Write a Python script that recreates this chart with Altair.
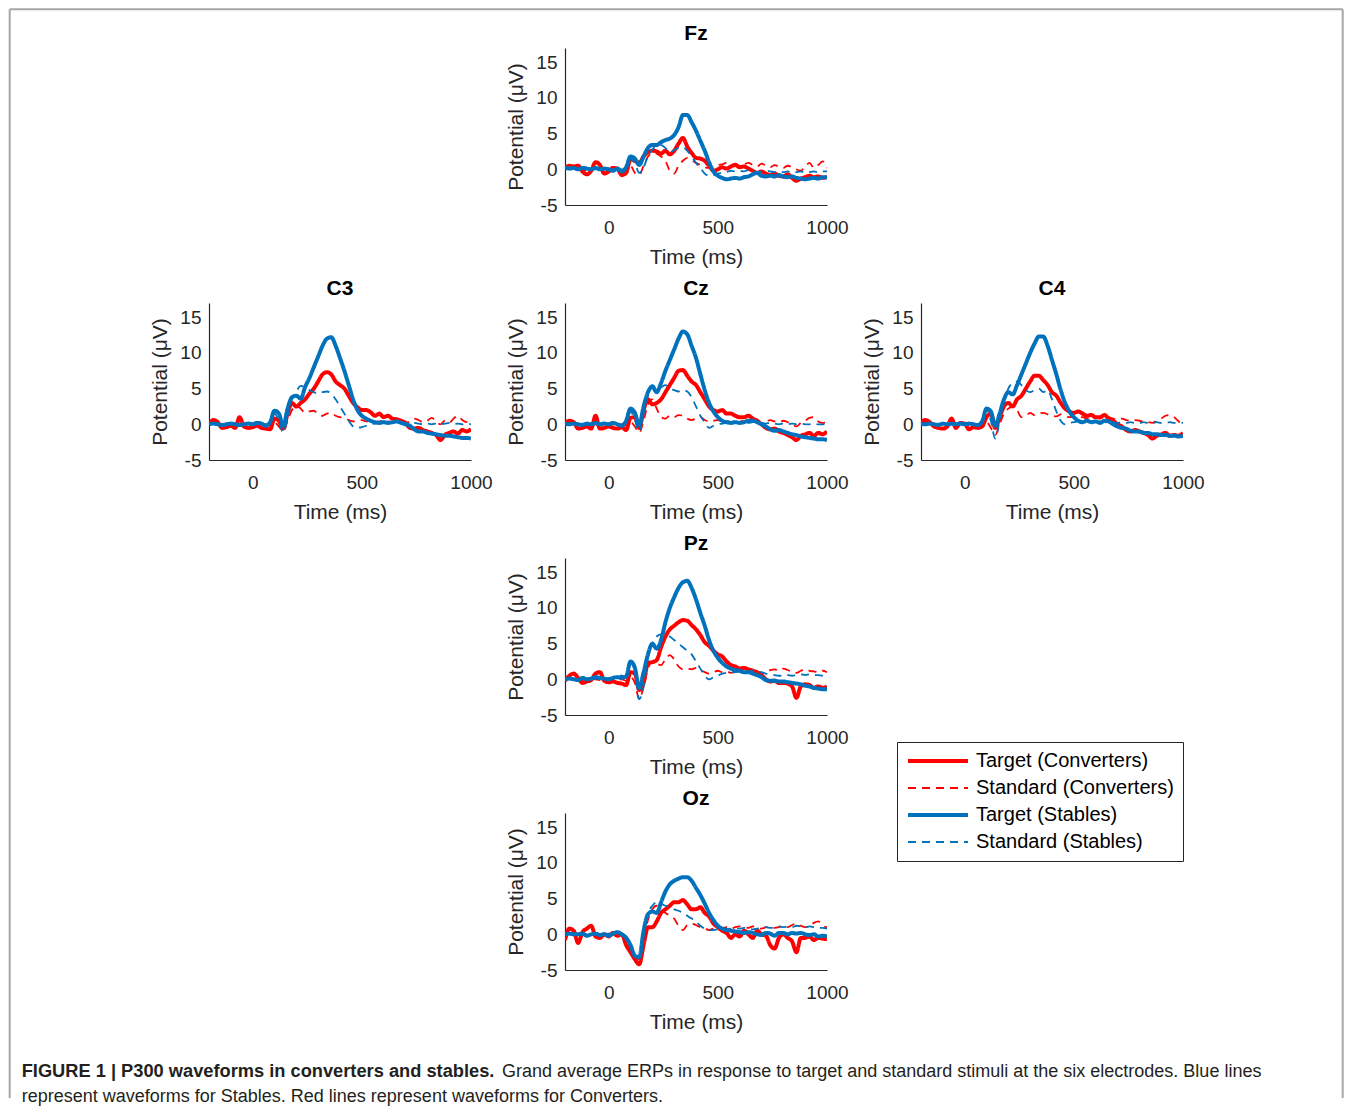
import altair as alt
import pandas as pd

# ---------------- data (20 ms steps) ----------------
TIME_MS = list(range(-200, 1001, 20))

SERIES = ["Target (Converters)", "Standard (Converters)", "Target (Stables)", "Standard (Stables)"]
COLORS = ["#ff0000", "#ff0000", "#0072bd", "#0072bd"]
DASHES = [[1, 0], [8, 6], [1, 0], [8, 6]]
WIDTHS = [4, 1.8, 4, 1.8]

FZ_TC = [0.2, 0.5, 0.4, 0.5, -0.3, -0.7, -0.2, 1.0, 0.6, -0.6,
         -0.3, 0.2, 0.1, -0.8, -0.5, 1.4, 1.2, 0.9, 1.8, 2.4,
         2.6, 2.5, 2.2, 2.6, 2.1, 2.6, 3.6, 4.4, 3.2, 2.3,
         1.6, 1.5, 1.2, 0.5, -0.2, 0.0, 0.3, 0.1, 0.4, 0.6,
         0.3, 0.4, 0.1, -0.2, -0.5, -0.3, -0.6, -0.8, -0.6, -0.9,
         -1.0, -0.7, -1.2, -1.6, -1.3, -1.1, -0.9, -1.1, -1.0, -1.2,
         -1.0]
FZ_SC = [0.2, 0.3, 0.1, 0.2, 0.0, -0.2, 0.0, 0.2, 0.1, 0.0,
         0.0, 0.1, 0.0, -0.2, 0.0, 0.5, -0.5, -0.8, 0.5, 1.8,
         2.3, 2.2, 1.8, 1.2, -0.2, -0.6, 0.5, 1.2, 1.6, 1.3,
         0.9, 0.6, 0.3, 0.2, 0.3, 0.6, 0.7, 0.9, 0.6, 0.8,
         0.5, 0.7, 0.9, 0.6, 0.4, 0.8, 0.5, 0.3, 0.6, 0.4,
         0.2, 0.5, 0.3, 0.0, -0.2, 0.4, 0.9, 0.2, 0.6, 1.1,
         0.2]
FZ_TS = [0.3, 0.1, 0.2, 0.0, 0.2, 0.1, 0.0, 0.2, 0.0, 0.1,
         0.0, -0.2, 0.1, -0.3, 0.3, 1.8, 1.5, 0.6, 1.8, 3.0,
         3.4, 3.4, 3.8, 4.1, 4.3, 4.8, 5.9, 7.6, 7.6, 6.6,
         5.4, 4.0, 2.6, 1.0, -0.3, -0.9, -1.2, -1.4, -1.3, -1.2,
         -1.3, -1.1, -1.0, -0.7, -0.5, -0.9, -1.0, -0.9, -1.0, -0.8,
         -1.0, -1.1, -1.0, -1.2, -1.3, -1.4, -1.3, -1.2, -1.3, -1.1,
         -1.2]
FZ_SS = [0.2, 0.1, 0.1, 0.0, 0.1, 0.0, 0.1, 0.0, 0.1, 0.0,
         0.0, 0.0, 0.1, 0.0, 0.2, 1.5, 0.8, -0.5, 0.3, 1.8,
         2.8, 3.2, 3.4, 3.0, 2.4, 2.7, 3.0, 3.1, 2.6, 1.8,
         0.9, 0.2, -0.6, -0.9, -0.8, -0.6, -0.5, -0.4, -0.2, -0.3,
         -0.2, -0.3, -0.1, -0.2, -0.4, -0.3, -0.2, -0.3, -0.4, -0.3,
         -0.4, -0.3, -0.5, -0.4, -0.3, -0.5, -0.4, -0.3, -0.4, -0.3,
         -0.3]

C3_TC = [0.0, 0.6, 0.3, -0.5, -0.4, -0.2, -0.5, 1.0, -0.3, -0.5,
         -0.4, -0.2, -0.5, -0.6, -0.7, 0.8, 0.5, -0.6, 1.5, 3.0,
         2.5, 3.0, 3.5, 4.3, 5.0, 6.0, 7.0, 7.3, 7.0, 6.0,
         5.5, 5.0, 4.0, 3.0, 2.4, 2.0, 2.0, 1.7, 1.2, 1.5,
         1.0, 1.2, 0.8, 0.7, 0.5, 0.2, -0.5, -0.6, -0.5, -0.8,
         -1.0, -1.2, -1.5, -2.2, -1.5, -1.2, -1.0, -1.3, -0.8, -1.0,
         -0.7]
C3_SC = [0.1, 0.2, 0.0, 0.1, -0.1, 0.0, 0.1, 0.0, -0.1, 0.0,
         0.1, 0.0, -0.1, 0.0, -0.2, 0.3, -0.3, -1.0, 0.5, 2.0,
         2.6, 2.2, 1.6, 1.8, 1.9, 1.4, 1.2, 1.5, 1.6, 1.2,
         1.0, 0.8, 0.6, 0.4, 0.5, 0.6, 0.4, 0.5, 0.3, 0.4,
         0.5, 0.4, 0.3, 0.5, 0.4, 0.2, 0.4, 0.8, 0.6, 0.3,
         0.5, 0.9, 0.4, 0.0, 0.5, 0.2, 0.8, 1.2, 0.6, 0.3,
         0.4]
C3_TS = [0.0, 0.1, 0.0, -0.1, 0.0, 0.1, 0.0, -0.1, 0.0, 0.1,
         0.0, 0.2, 0.1, -0.2, 0.3, 1.9, 1.5, -0.2, 2.2, 3.8,
         4.0, 3.6, 5.2, 6.5, 8.0, 9.5, 11.0, 12.0, 12.2, 11.0,
         9.3, 7.5, 5.5, 3.5, 2.0, 1.2, 0.8, 0.5, 0.3, 0.2,
         0.3, 0.2, 0.3, 0.4, 0.2, 0.0, -0.2, -0.7, -1.0, -1.0,
         -1.2, -1.3, -1.4, -1.5, -1.6, -1.6, -1.7, -1.8, -1.9, -1.9,
         -2.0]
C3_SS = [0.0, 0.1, 0.0, 0.0, 0.1, 0.0, 0.0, 0.1, 0.0, 0.0,
         0.1, 0.0, 0.1, 0.0, 0.2, 1.5, 0.5, -1.2, 1.0, 3.5,
         4.6, 5.4, 5.2, 4.8, 4.5, 4.3, 4.5, 4.6, 4.3, 3.5,
         2.5, 1.5, 0.5, -0.3, -0.5, -0.4, -0.2, 0.0, 0.1, 0.2,
         0.2, 0.3, 0.2, 0.2, 0.3, 0.2, 0.1, 0.2, 0.1, 0.0,
         0.1, 0.0, 0.1, 0.0, 0.1, 0.2, 0.0, 0.1, 0.0, 0.1,
         0.0]

CZ_TC = [0.1, 0.5, 0.3, -0.6, -0.5, -0.3, -0.6, 1.2, -0.6, -0.5,
         -0.3, -0.5, -0.6, -0.4, -0.8, 0.9, 1.0, -0.5, 2.0, 3.5,
         2.8, 3.0, 3.5, 4.5, 5.5, 6.5, 7.5, 7.6, 6.8, 6.0,
         5.5, 4.5, 3.5, 2.5, 2.0, 1.8, 2.0, 1.5, 1.5, 1.2,
         1.0, 1.0, 1.2, 0.8, 0.5, 0.0, -0.5, -0.7, -0.6, -1.0,
         -1.2, -1.5, -1.8, -2.2, -1.6, -1.4, -1.2, -1.6, -1.2, -1.4,
         -1.0]
CZ_SC = [0.1, 0.2, 0.0, 0.1, -0.1, 0.0, 0.1, 0.0, -0.1, 0.0,
         0.1, 0.0, -0.1, 0.0, -0.2, 0.3, -0.3, -1.2, 0.5, 2.8,
         3.5, 2.2, 1.0, 0.8, 1.2, 1.0, 1.3, 1.2, 0.8, 0.6,
         0.8, 1.0, 0.6, 0.4, 0.5, 0.6, 0.4, 0.5, 0.3, 0.4,
         0.5, 0.4, 0.3, 0.5, 0.4, 0.2, 0.4, 0.6, 0.4, 0.3,
         0.5, 0.3, 0.0, -0.3, 0.2, 0.5, 0.9, 1.0, 0.4, 0.2,
         0.3]
CZ_TS = [0.1, 0.0, 0.1, 0.0, -0.1, 0.1, 0.0, 0.2, 0.0, 0.1,
         0.0, 0.2, 0.0, -0.2, 0.5, 2.2, 1.6, -0.1, 2.5, 4.5,
         5.3, 4.5, 5.8, 7.5, 9.0, 10.5, 12.0, 13.0, 12.6, 11.0,
         9.3, 7.0, 4.8, 3.0, 1.8, 1.0, 0.5, 0.3, 0.2, 0.3,
         0.2, 0.3, 0.5, 0.5, 0.3, 0.0, -0.3, -0.7, -0.9, -0.8,
         -1.0, -1.2, -1.4, -1.5, -1.7, -1.8, -1.9, -2.0, -2.1, -2.1,
         -2.2]
CZ_SS = [0.0, 0.1, 0.0, 0.0, 0.1, 0.0, 0.0, 0.1, 0.0, 0.0,
         0.1, 0.0, 0.1, 0.0, 0.3, 1.8, 0.6, -1.0, 1.5, 4.0,
         5.5, 5.0, 5.2, 5.5, 5.0, 4.8, 4.6, 4.8, 4.6, 3.8,
         2.5, 1.2, 0.3, -0.5, -0.2, 0.0, 0.1, 0.2, 0.2, 0.3,
         0.2, 0.3, 0.2, 0.3, 0.3, 0.2, 0.1, 0.2, 0.1, 0.0,
         0.1, 0.0, 0.1, 0.0, 0.1, 0.0, 0.0, 0.1, 0.0, 0.0,
         0.0]

C4_TC = [0.2, 0.6, 0.3, -0.3, -0.5, -0.6, -0.3, 0.8, -0.5, 0.2,
         0.1, -0.7, -0.4, -0.5, -0.3, 1.0, 1.5, -0.5, 1.0, 2.5,
         3.0, 2.5, 3.5, 4.0, 5.0, 6.0, 6.8, 6.8, 6.2, 5.5,
         4.5, 4.0, 3.0, 2.2, 1.8, 1.6, 1.8, 1.5, 1.2, 1.3,
         1.0, 1.0, 1.3, 0.8, 0.5, 0.0, -0.3, -0.8, -1.0, -0.8,
         -1.0, -1.2, -1.5, -2.0, -1.6, -1.4, -1.2, -1.6, -1.5, -1.6,
         -1.2]
C4_SC = [0.1, 0.2, 0.0, 0.1, -0.1, 0.0, 0.1, 0.0, -0.1, 0.0,
         0.1, 0.0, -0.1, 0.0, -0.2, 0.3, -0.5, -1.5, 0.0, 1.5,
         2.2, 2.5, 2.0, 1.0, 1.2, 1.6, 1.3, 1.5, 1.6, 1.4,
         1.2, 1.1, 1.4, 1.2, 1.0, 1.0, 0.9, 1.0, 0.8, 0.9,
         1.0, 0.8, 1.2, 1.0, 0.8, 0.7, 0.8, 0.6, 0.5, 0.6,
         0.5, 0.4, 0.3, 0.2, 0.5, 0.8, 1.2, 1.3, 1.0, 0.4,
         -0.3]
C4_TS = [0.1, 0.0, 0.1, 0.0, -0.1, 0.1, 0.0, 0.1, 0.0, 0.1,
         0.0, 0.1, 0.0, -0.1, 0.4, 2.2, 1.8, -0.2, 1.5, 3.5,
         4.5, 4.2, 5.5, 7.0, 8.5, 10.0, 11.3, 12.3, 12.3, 11.0,
         9.0, 7.0, 4.8, 3.0, 1.8, 1.0, 0.5, 0.3, 0.5, 0.3,
         0.4, 0.2, 0.5, 0.4, 0.0, -0.3, -0.5, -0.6, -0.9, -1.0,
         -1.0, -1.2, -1.2, -1.4, -1.4, -1.5, -1.5, -1.6, -1.6, -1.7,
         -1.6]
C4_SS = [0.0, 0.1, 0.0, 0.0, 0.1, 0.0, 0.0, 0.1, 0.0, 0.0,
         0.1, 0.0, 0.1, 0.0, 0.3, 2.0, 0.5, -2.0, 0.5, 3.0,
         5.0, 5.8, 6.0, 5.5, 4.8, 4.5, 4.8, 5.0, 4.5, 4.8,
         3.5, 1.8, 0.5, 0.0, 0.2, 0.3, 0.4, 0.3, 0.5, 0.4,
         0.3, 0.4, 0.3, 0.2, 0.3, 0.2, 0.3, 0.2, 0.3, 0.2,
         0.2, 0.3, 0.2, 0.2, 0.3, 0.2, 0.2, 0.3, 0.2, 0.2,
         0.2]

PZ_TC = [-0.2, 0.5, 0.8, 0.2, -0.5, -0.3, -0.1, 0.8, 1.0, -0.2,
         -0.4, -0.3, -0.5, -0.6, -0.8, 1.0, 0.8, -1.5, -0.5, 2.3,
         2.4, 2.7, 4.5, 6.0, 7.0, 7.5, 8.0, 8.3, 8.2, 7.6,
         7.0, 6.2, 5.2, 4.7, 4.0, 3.5, 3.2, 2.5, 2.0, 1.8,
         1.5, 1.6, 1.4, 1.2, 1.0, 0.6, 0.0, -0.3, -0.2, -0.5,
         -0.5, -0.6, -1.0, -2.6, -1.0, -0.7, -0.8, -1.2, -1.0, -1.2,
         -1.0]
PZ_SC = [0.1, 0.2, 0.0, 0.1, -0.1, 0.0, 0.1, 0.0, -0.1, 0.0,
         0.1, 0.0, -0.1, 0.0, -0.2, 0.3, -0.5, -2.8, -1.0, 1.5,
         2.5, 2.2, 2.0, 2.8, 3.4, 2.8, 1.8, 1.4, 1.5, 1.4,
         1.6, 1.3, 1.0, 0.8, 1.0, 1.2, 1.0, 1.1, 0.9, 1.0,
         1.1, 1.0, 1.2, 1.1, 1.0, 0.9, 1.1, 1.3, 1.4, 1.2,
         1.5, 1.3, 1.0, 0.9, 1.2, 1.4, 1.2, 1.1, 1.0, 1.2,
         1.0]
PZ_TS = [0.0, 0.1, 0.0, -0.1, 0.2, 0.0, 0.1, 0.3, 0.2, 0.1,
         0.0, 0.2, 0.3, 0.2, 0.4, 2.5, 1.6, -1.2, 1.0, 3.5,
         5.0, 4.3, 5.5, 8.0, 10.0, 11.5, 12.8, 13.6, 13.8, 12.8,
         11.2, 9.3, 7.5, 5.5, 4.0, 3.0, 2.3, 1.8, 1.5, 1.3,
         1.2, 1.0, 1.0, 0.8, 0.6, 0.3, -0.1, -0.2, -0.2, -0.3,
         -0.3, -0.4, -0.5, -0.6, -0.7, -0.9, -1.0, -1.2, -1.3, -1.4,
         -1.4]
PZ_SS = [0.0, 0.1, 0.0, 0.0, 0.1, 0.0, 0.0, 0.1, 0.0, 0.0,
         0.1, 0.2, 0.5, 0.5, 0.4, 2.4, 1.5, -2.8, -1.0, 3.0,
         5.0, 6.0, 6.3, 6.3, 6.0, 5.5, 5.0, 4.5, 4.0, 3.5,
         2.5, 1.5, 0.5, 0.0, 0.3, 0.5, 0.8, 0.9, 1.0, 1.0,
         1.1, 1.0, 1.1, 1.2, 1.1, 1.0, 0.8, 0.7, 0.6, 0.5,
         0.5, 0.6, 0.5, 0.6, 0.7, 0.6, 0.7, 0.6, 0.6, 0.5,
         0.5]

OZ_TC = [-0.8, 0.8, 0.5, -1.2, 0.3, 0.8, 1.2, -0.3, -0.5, 0.0,
         -0.3, 0.2, -0.2, 0.0, -1.5, -2.5, -3.5, -4.2, -1.5, 1.0,
         1.0, 1.8, 3.0, 3.5, 4.0, 4.5, 4.5, 4.8, 4.2, 3.5,
         3.5, 3.8, 3.0, 2.5, 1.5, 1.0, 0.5, 0.2, -0.5, 0.0,
         -0.3, 0.5, 0.0, -0.5, 0.5, 0.0, -0.2, -1.5, -2.0, -0.5,
         0.0, -0.5, -1.0, -2.5, -0.5, -0.5, -0.3, -0.8, -0.5, -0.6,
         -0.7]
OZ_SC = [0.1, 0.2, 0.0, 0.1, -0.1, 0.0, 0.1, 0.0, -0.1, 0.0,
         0.1, 0.0, -0.1, 0.0, -0.8, -2.0, -3.2, -3.5, -1.0, 2.0,
         3.5, 4.0, 3.5, 3.0, 2.6, 2.2, 1.2, 0.6, 1.3, 1.5,
         1.3, 1.0, 0.8, 0.6, 0.8, 1.0, 0.9, 1.0, 0.8, 1.0,
         1.1, 1.0, 0.9, 1.1, 1.0, 0.8, 1.0, 1.1, 0.9, 1.0,
         1.2, 1.0, 1.3, 1.5, 1.2, 1.0, 1.2, 1.6, 1.8, 1.2,
         1.0]
OZ_TS = [0.0, 0.1, 0.0, 0.0, 0.1, -0.2, 0.0, 0.1, -0.1, 0.0,
         -0.2, 0.1, 0.3, 0.0, -0.5, -1.5, -3.0, -3.2, 0.5, 2.8,
         3.2, 3.0, 4.5, 6.0, 7.0, 7.5, 7.8, 8.0, 8.0, 7.5,
         6.5, 5.5, 4.3, 3.0, 2.0, 1.2, 0.8, 0.6, 0.5, 0.4,
         0.3, 0.2, 0.3, 0.2, 0.0, -0.1, 0.2, 0.1, -0.2, 0.2,
         0.2, 0.0, 0.2, 0.1, 0.2, 0.0, -0.1, 0.0, -0.3, -0.2,
         -0.3]
OZ_SS = [0.0, 0.1, 0.0, 0.0, 0.1, 0.0, 0.0, 0.1, 0.0, 0.0,
         0.1, 0.0, 0.1, 0.0, -0.3, -1.5, -3.0, -3.4, 0.5, 3.0,
         4.0, 4.5, 4.3, 4.0, 3.8, 3.5, 3.3, 3.0, 2.6, 2.2,
         1.8, 1.2, 0.8, 0.6, 0.6, 0.7, 0.8, 0.7, 0.8, 0.9,
         0.8, 0.9, 0.8, 0.7, 0.8, 0.9, 1.0, 0.9, 1.0, 1.1,
         1.0, 1.1, 1.0, 1.2, 1.1, 1.0, 1.1, 1.0, 0.9, 0.9,
         0.8]

WAVES = {
    "Fz": [FZ_TC, FZ_SC, FZ_TS, FZ_SS],
    "C3": [C3_TC, C3_SC, C3_TS, C3_SS],
    "Cz": [CZ_TC, CZ_SC, CZ_TS, CZ_SS],
    "C4": [C4_TC, C4_SC, C4_TS, C4_SS],
    "Pz": [PZ_TC, PZ_SC, PZ_TS, PZ_SS],
    "Oz": [OZ_TC, OZ_SC, OZ_TS, OZ_SS],
}

X_TICKS = [0, 500, 1000]
Y_TICKS = [-5, 0, 5, 10, 15]

CAPTION_BOLD = "FIGURE 1 | P300 waveforms in converters and stables."
CAPTION_1 = "Grand average ERPs in response to target and standard stimuli at the six electrodes. Blue lines"
CAPTION_2 = "represent waveforms for Stables. Red lines represent waveforms for Converters."

# ---------------- styling / layout ----------------
FONT = "Liberation Sans"
INK = "#262626"
W, H = 262, 157
COL_GAP, ROW_GAP = 94, 98


def long_df(name):
    rows = []
    for s, vals in zip(SERIES, WAVES[name]):
        for t, v in zip(TIME_MS, vals):
            rows.append({"t": t, "v": v, "series": s})
    return pd.DataFrame(rows)


def panel(name, legend=None):
    df = long_df(name)
    enc = dict(
        x=alt.X("t:Q", scale=alt.Scale(domain=[-200, 1000], nice=False, zero=False),
                axis=alt.Axis(values=X_TICKS, title="Time (ms)", labelExpr="'' + datum.value",
                              labelFlush=False)),
        y=alt.Y("v:Q", scale=alt.Scale(domain=[-5, 17], nice=False, zero=False),
                axis=alt.Axis(values=Y_TICKS, title="Potential (μV)", labelExpr="'' + datum.value",
                              labelFlush=False)),
        color=alt.Color("series:N", scale=alt.Scale(domain=SERIES, range=COLORS), legend=legend),
        strokeDash=alt.StrokeDash("series:N", scale=alt.Scale(domain=SERIES, range=DASHES), legend=legend),
        strokeWidth=alt.StrokeWidth("series:N",
                                    scale=alt.Scale(type="ordinal", domain=SERIES, range=WIDTHS),
                                    legend=legend),
    )
    layers = [
        alt.Chart(df).transform_filter(alt.datum.series == s)
        .mark_line(interpolate="monotone", clip=True).encode(**enc)
        for s in SERIES
    ]
    return alt.layer(*layers).properties(
        width=W, height=H,
        title=alt.TitleParams(name, font=FONT, fontSize=21, fontWeight="bold", color="black",
                              anchor="middle", offset=4),
    )


def spacer():
    return alt.Chart(pd.DataFrame({"k": [0]})).mark_point(opacity=0).properties(width=W, height=H)


def decorations():
    base = alt.Chart(pd.DataFrame({"k": [0]}))
    frame = dict(color="#a6a6a6", strokeWidth=2)
    left_edge = base.mark_rule(**frame).encode(x=alt.value(-199.3), y=alt.value(-38.7), y2=alt.value(1050))
    top_edge = base.mark_rule(**frame).encode(x=alt.value(-199.3), x2=alt.value(1133.7), y=alt.value(-38.7))
    right_edge = base.mark_rule(**frame).encode(x=alt.value(1133.7), y=alt.value(-38.7), y2=alt.value(1050))
    txt = dict(font=FONT, align="left", baseline="middle", color="#231f20")
    c1 = base.mark_text(text=CAPTION_BOLD, fontWeight="bold", fontSize=18.25, **txt).encode(
        x=alt.value(-187.3), y=alt.value(1024.3))
    c2 = base.mark_text(text=CAPTION_1, fontSize=18, **txt).encode(x=alt.value(293), y=alt.value(1024.3))
    c3 = base.mark_text(text=CAPTION_2, fontSize=18, **txt).encode(x=alt.value(-187.3), y=alt.value(1049.3))
    return alt.layer(left_edge, top_edge, right_edge, c1, c2, c3).properties(width=W, height=H)


legend = alt.Legend(
    title=None, orient="none", legendX=332, legendY=184, direction="vertical",
    symbolType="stroke", symbolSize=3600, clipHeight=20,
    labelFont=FONT, labelFontSize=20, labelColor="black", labelLimit=400, labelOffset=6,
    strokeColor=INK, fillColor="white", padding=9, rowPadding=7,
)

cells = [
    decorations(), panel("Fz"), spacer(),
    panel("C3"), panel("Cz"), panel("C4"),
    spacer(), panel("Pz", legend), spacer(),
    spacer(), panel("Oz"), spacer(),
]

chart = alt.concat(
    *cells, columns=3, spacing={"row": ROW_GAP, "column": COL_GAP}, bounds="flush"
).resolve_scale(
    color="independent", strokeDash="independent", strokeWidth="independent"
).properties(
    padding=0, background="white"
).configure_view(
    strokeWidth=0
).configure_axis(
    grid=False, ticks=False, domainColor=INK, domainWidth=1.2,
    labelFont=FONT, labelFontSize=19, labelColor=INK,
    titleFont=FONT, titleFontSize=21, titleFontWeight="normal", titleColor=INK,
).configure_axisX(
    labelPadding=13, titlePadding=9
).configure_axisY(
    labelPadding=8, titlePadding=9
)

chart.save("out.html", embed_options={"renderer": "svg", "actions": False})
